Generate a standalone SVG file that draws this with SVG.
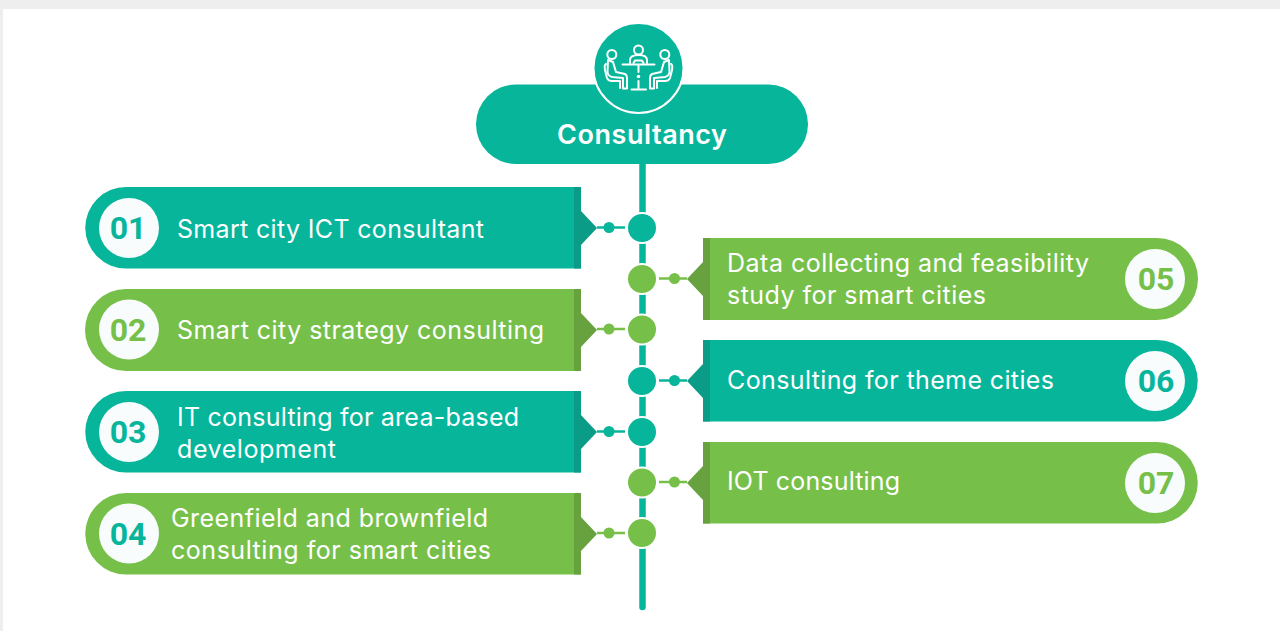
<svg xmlns="http://www.w3.org/2000/svg" width="1280" height="631" viewBox="0 0 1280 631">
<style>
.t{fill:#fff;font-family:Inter,"Liberation Sans",sans-serif;font-size:25px;font-weight:400}
.h{fill:#fff;font-family:Inter,"Liberation Sans",sans-serif;font-size:27px;font-weight:600}
.n{font-family:Roboto,"Liberation Sans",sans-serif;font-size:32px;font-weight:700;text-anchor:middle}
.tc{fill:#07b59b}.gc{fill:#76c04a}.td{fill:#0b9c87}.gd{fill:#67a23f}
.disc{fill:#f8fcfd}
.ring{stroke:#fff;stroke-width:2}
.ts{stroke:#07b59b;stroke-width:2.5}.gs{stroke:#76c04a;stroke-width:2.5}
.ic{fill:none;stroke:#fff;stroke-width:2;stroke-linecap:round;stroke-linejoin:round}
</style>
<rect width="1280" height="631" fill="#fff"/>
<path d="M0 0H1280V9H3V631H0Z" fill="#eeeeee"/>
<g id="connectors">
<path d="M642.500 164V607" stroke="#07b59b" stroke-width="6.500" stroke-linecap="round" fill="none"/>
<path class="ts" d="M597 227.500H625"/><path class="gs" d="M659 278.500H687"/>
<path class="gs" d="M597 329H625"/><path class="ts" d="M659 380.500H687"/>
<path class="ts" d="M597 431.500H625"/><path class="gs" d="M659 482H687"/>
<path class="gs" d="M597 533H625"/>
<circle class="tc" cx="609" cy="227.500" r="5.500"/><circle class="gc" cx="674.500" cy="278.500" r="5.500"/>
<circle class="gc" cx="609" cy="329" r="5.500"/><circle class="tc" cx="674.500" cy="380.500" r="5.500"/>
<circle class="tc" cx="609" cy="431.500" r="5.500"/><circle class="gc" cx="674.500" cy="482" r="5.500"/>
<circle class="gc" cx="609" cy="533" r="5.500"/>
<circle class="tc ring" cx="642" cy="228" r="15"/><circle class="gc ring" cx="642" cy="279" r="15"/>
<circle class="gc ring" cx="642" cy="329.500" r="15"/><circle class="tc ring" cx="642" cy="381" r="15"/>
<circle class="tc ring" cx="642" cy="432" r="15"/><circle class="gc ring" cx="642" cy="482.500" r="15"/>
<circle class="gc ring" cx="642" cy="533" r="15"/>
</g>
<g id="header">
<rect class="tc" x="476" y="84.500" width="332" height="79.500" rx="39.700"/>
<circle class="tc ring" cx="638.500" cy="68" r="45"/>
<g id="icon" class="ic">
<circle cx="638.500" cy="50" r="4.500"/>
<path d="M630 63V60Q630 55 638.500 55Q647 55 647 60V63"/>
<path d="M633.500 63L635 60.500H642L643.500 63"/>
<path d="M622.500 64.500H654.500M638.500 64.500V72M638.500 81V88M631.500 89.500H646"/>
<circle cx="638.500" cy="76.500" r="1.800" fill="#fff" stroke="none"/>
<circle cx="611.800" cy="54.500" r="4.500"/>
<path d="M608 60L613 62L616 72L625 74Q627 75 627 78V88.500H623V78L612 77Q608 76 607.500 72Z"/>
<path d="M606 64Q604 65 605 70L607 78Q608 81 612 81L620 81V88"/>
<circle cx="664.800" cy="54.500" r="4.500"/>
<path d="M669 60L664 62L661 72L652 74Q650 75 650 78V88.500H654V78L665 77Q669 76 669.500 72Z"/>
<path d="M671 64Q673 65 672 70L670 78Q669 81 665 81L657 81V88"/>
</g>
<text class="h" x="557" y="144" textLength="170">Consultancy</text>
</g>
<g id="n1">
<path class="tc" d="M581 187H126a40.750 40.750 0 0 0 0 81.500H581Z"/>
<path class="td" d="M574 187H581V211L597 228L581 245V268.500H574Z"/>
<circle class="disc" cx="129" cy="228" r="30"/>
<text class="n tc" x="128" y="239">01</text>
<text class="t" x="177" y="238" textLength="307">Smart city ICT consultant</text>
</g>
<g id="n2">
<path class="gc" d="M581 289H126a41 41 0 0 0 0 82H581Z"/>
<path class="gd" d="M574 289H581V313L597 330L581 347V371H574Z"/>
<circle class="disc" cx="129" cy="329.500" r="30"/>
<text class="n gc" x="128" y="340.500">02</text>
<text class="t" x="177" y="339" textLength="367">Smart city strategy consulting</text>
</g>
<g id="n3">
<path class="tc" d="M581 391H126a40.750 40.750 0 0 0 0 81.500H581Z"/>
<path class="td" d="M574 391H581V415L597 432L581 449V472.500H574Z"/>
<circle class="disc" cx="129" cy="432" r="30"/>
<text class="n tc" x="128" y="443">03</text>
<text class="t" x="177" y="426" textLength="342">IT consulting for area-based</text>
<text class="t" x="177" y="458" textLength="159">development</text>
</g>
<g id="n4">
<path class="gc" d="M581 493H126a40.750 40.750 0 0 0 0 81.500H581Z"/>
<path class="gd" d="M574 493H581V517L597 534L581 551V574.500H574Z"/>
<circle class="disc" cx="129" cy="533.500" r="30"/>
<text class="n tc" x="128" y="544.500">04</text>
<text class="t" x="171" y="527" textLength="317">Greenfield and brownfield</text>
<text class="t" x="171" y="559" textLength="320">consulting for smart cities</text>
</g>
<g id="n5">
<path class="gc" d="M703 238H1157a41 41 0 0 1 0 82H703Z"/>
<path class="gd" d="M710 238H703V262L687 279L703 296V320H710Z"/>
<circle class="disc" cx="1155" cy="279" r="30"/>
<text class="n gc" x="1156" y="290">05</text>
<text class="t" x="727" y="272" textLength="362">Data collecting and feasibility</text>
<text class="t" x="727" y="304" textLength="259">study for smart cities</text>
</g>
<g id="n6">
<path class="tc" d="M703 340H1157a40.750 40.750 0 0 1 0 81.500H703Z"/>
<path class="td" d="M710 340H703V364L687 381L703 398V421.500H710Z"/>
<circle class="disc" cx="1155" cy="381" r="30"/>
<text class="n tc" x="1156" y="392">06</text>
<text class="t" x="727" y="389" textLength="327">Consulting for theme cities</text>
</g>
<g id="n7">
<path class="gc" d="M703 442H1157a40.750 40.750 0 0 1 0 81.500H703Z"/>
<path class="gd" d="M710 442H703V466L687 483L703 500V523.500H710Z"/>
<circle class="disc" cx="1155" cy="483" r="30"/>
<text class="n gc" x="1156" y="494">07</text>
<text class="t" x="727" y="490" textLength="173">IOT consulting</text>
</g>
</svg>
